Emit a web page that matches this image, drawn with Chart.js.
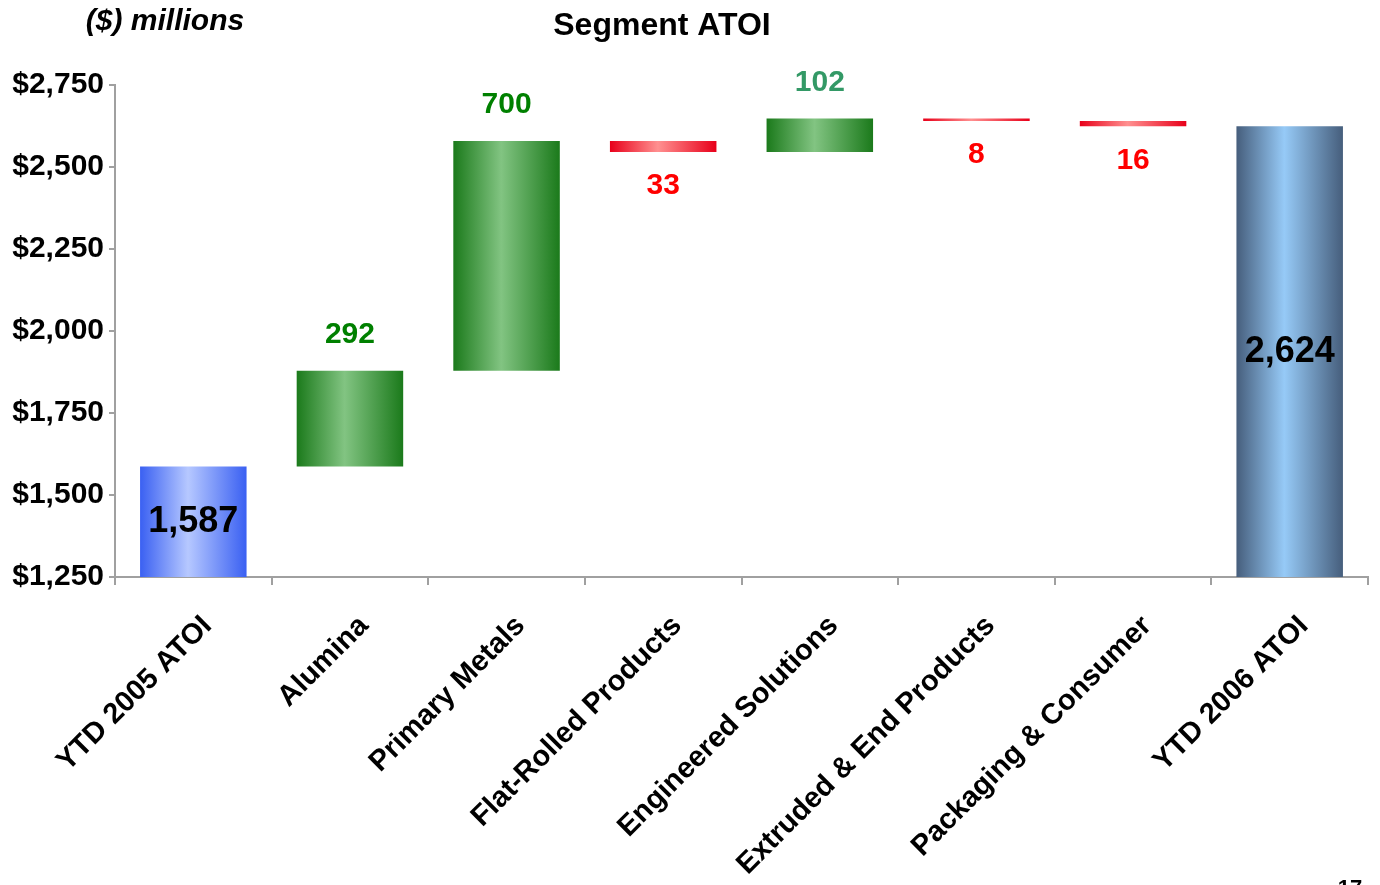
<!DOCTYPE html>
<html>
<head>
<meta charset="utf-8">
<script src="https://cdn.jsdelivr.net/npm/chart.js@4.4.1/dist/chart.umd.min.js"></script>
<style>
  html, body { margin: 0; padding: 0; background: #fff; }
  #wrap { position: relative; width: 1380px; height: 885px; }
</style>
</head>
<body>
<div id="wrap"><canvas id="atoi"></canvas></div>
<script>
// ==================== DATA ====================
const categories = ['YTD 2005 ATOI', 'Alumina', 'Primary Metals', 'Flat-Rolled Products',
    'Engineered Solutions', 'Extruded & End Products', 'Packaging & Consumer', 'YTD 2006 ATOI'];
const startTotal = 1587;
const segmentChanges = [292, 700, -33, 102, -8, -16];
const endTotal = 2624;
const yTicks = [1250, 1500, 1750, 2000, 2250, 2500, 2750];

// floating bars [low, high]
const ranges = [];
const labelsText = [];
ranges.push([yTicks[0], startTotal]);
labelsText.push(startTotal.toLocaleString('en-US'));
let running = startTotal;
segmentChanges.forEach(v => {
    ranges.push([running, running + v]);
    labelsText.push(String(Math.abs(v)));
    running += v;
});
ranges.push([yTicks[0], endTotal]);
labelsText.push(endTotal.toLocaleString('en-US'));

// ==================== STYLES ====================
const BAR_PCT = 0.68;
const FONT = "'Liberation Sans', Arial, sans-serif";
const gradStops = {
    start: ['#3a60f2', '#b6c8ff', '#3a60f2'],
    up:    ['#1b7a1b', '#82c482', '#1b7a1b'],
    down:  ['#e8001a', '#ff9090', '#e8001a'],
    end:   ['#465e7c', '#96caf7', '#465e7c']
};
const upLabelColors = { 1: '#008000', 2: '#008000', 4: '#339966' };

function barKind(i) {
    if (i === 0) return 'start';
    if (i === categories.length - 1) return 'end';
    return segmentChanges[i - 1] >= 0 ? 'up' : 'down';
}

function barGradient(c) {
    const chart = c.chart;
    const xs = chart.scales.x;
    if (!chart.chartArea || !xs) return '#888';
    const cx = xs.getPixelForValue(c.dataIndex);
    const w = xs.width / categories.length * BAR_PCT;
    const stops = gradStops[barKind(c.dataIndex)];
    const g = chart.ctx.createLinearGradient(cx - w / 2, 0, cx + w / 2, 0);
    g.addColorStop(0, stops[0]);
    g.addColorStop(0.45, stops[1]);
    g.addColorStop(1, stops[2]);
    return g;
}

// ==================== PLUGINS ====================
const textPlugin = {
    id: 'textPlugin',
    afterDraw(chart) {
        const ctx = chart.ctx;
        ctx.save();
        ctx.textAlign = 'center';
        ctx.textBaseline = 'middle';
        ctx.fillStyle = '#000';
        ctx.font = `bold 32px ${FONT}`;
        ctx.fillText('Segment ATOI', 662, 26);
        ctx.font = `italic bold 30px ${FONT}`;
        ctx.fillText('($) millions', 165, 22);
        ctx.font = `bold 22px ${FONT}`;
        ctx.textBaseline = 'top';
        ctx.fillText('17', 1350, 878);

        const meta = chart.getDatasetMeta(0);
        const ys = chart.scales.y;
        meta.data.forEach((bar, i) => {
            const kind = barKind(i);
            const [lo, hi] = ranges[i];
            ctx.textBaseline = 'middle';
            if (kind === 'start' || kind === 'end') {
                ctx.font = `bold 36px ${FONT}`;
                ctx.fillStyle = '#000';
                const mid = (ys.getPixelForValue(lo) + ys.getPixelForValue(hi)) / 2;
                ctx.fillText(labelsText[i], bar.x, mid);
            } else if (kind === 'up') {
                ctx.font = `bold 30px ${FONT}`;
                ctx.fillStyle = upLabelColors[i] || '#008000';
                ctx.fillText(labelsText[i], bar.x, ys.getPixelForValue(hi) - 36);
            } else {
                ctx.font = `bold 30px ${FONT}`;
                ctx.fillStyle = '#ff0000';
                ctx.fillText(labelsText[i], bar.x, ys.getPixelForValue(hi) + 34);
            }
        });
        ctx.restore();
    }
};

// ==================== CHART ====================
new Chart(document.getElementById('atoi'), {
    type: 'bar',
    data: {
        labels: categories,
        datasets: [{
            data: ranges,
            backgroundColor: barGradient,
            borderWidth: 0,
            borderSkipped: false,
            barPercentage: BAR_PCT,
            categoryPercentage: 1
        }]
    },
    options: {
        responsive: true,
        maintainAspectRatio: false,
        animation: false,
        layout: { padding: { top: 85, right: 12, left: 0, bottom: 0 } },
        plugins: {
            legend: { display: false },
            tooltip: { enabled: false }
        },
        scales: {
            x: {
                afterFit: s => { s.height = 308; },
                border: { color: '#a0a0a0', width: 2 },
                grid: { offset: true, drawOnChartArea: false, tickLength: 8, color: '#a0a0a0', lineWidth: 2 },
                ticks: {
                    autoSkip: false, maxRotation: 45, minRotation: 45, padding: 24, labelOffset: 14,
                    color: '#000', font: { family: FONT, size: 29, weight: 'bold' }
                }
            },
            y: {
                min: yTicks[0],
                max: yTicks[yTicks.length - 1],
                afterFit: s => { s.width = 115; },
                afterBuildTicks: s => { s.ticks = yTicks.map(v => ({ value: v })); },
                border: { color: '#a0a0a0', width: 2 },
                grid: { drawOnChartArea: false, tickLength: 6, color: '#a0a0a0', lineWidth: 2 },
                ticks: {
                    padding: 5, color: '#000',
                    font: { family: FONT, size: 30, weight: 'bold' },
                    callback: v => '$' + v.toLocaleString('en-US')
                }
            }
        }
    },
    plugins: [textPlugin]
});
</script>
</body>
</html>
